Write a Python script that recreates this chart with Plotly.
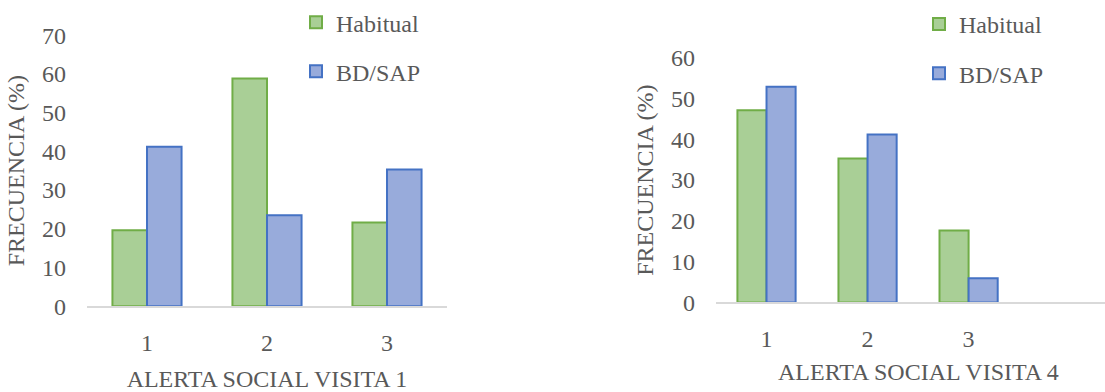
import plotly.graph_objects as go

# Frequencies (%) by social alert level, visits 1 and 4
categories = ["1", "2", "3"]
visita1_habitual = [19.6, 58.8, 21.6]
visita1_bdsap = [41.2, 23.5, 35.3]
visita4_habitual = [47.1, 35.3, 17.6]
visita4_bdsap = [52.9, 41.2, 5.9]

GREEN_FILL = "#a9cf96"
GREEN_LINE = "#70ad47"
BLUE_FILL = "#98abdb"
BLUE_LINE = "#4472c4"
TEXT = "#595959"
FONT = "Liberation Serif, Times New Roman, serif"

fig = go.Figure()

def add_pair(hab, bd, xa, ya, legend):
    fig.add_trace(go.Bar(
        x=categories, y=hab, name="Habitual", xaxis=xa, yaxis=ya,
        marker=dict(color=GREEN_FILL, line=dict(color=GREEN_LINE, width=2)),
        legend=legend, legendgroup="h"))
    fig.add_trace(go.Bar(
        x=categories, y=bd, name="BD/SAP", xaxis=xa, yaxis=ya,
        marker=dict(color=BLUE_FILL, line=dict(color=BLUE_LINE, width=2)),
        legend=legend, legendgroup="b"))

add_pair(visita1_habitual, visita1_bdsap, "x", "y", "legend")
add_pair(visita4_habitual, visita4_bdsap, "x2", "y2", "legend2")

W, H = 1105, 392
axis_font = dict(family=FONT, size=24, color=TEXT)
title_font = dict(family=FONT, size=24, color=TEXT)

xcommon = dict(type="category", showline=True, linecolor="#d9d9d9", linewidth=2,
               showgrid=False, zeroline=False, ticks="", tickfont=axis_font,
               ticklabelstandoff=14, fixedrange=True)
ycommon = dict(showline=False, showgrid=False, zeroline=False, ticks="",
               tickfont=axis_font, ticklabelstandoff=20, dtick=10)

legend_common = dict(font=dict(family=FONT, size=24, color=TEXT),
                     bgcolor="rgba(0,0,0,0)", tracegroupgap=15,
                     xanchor="left", yanchor="top", traceorder="grouped")

fig.update_layout(
    width=W, height=H,
    margin=dict(l=0, r=0, t=0, b=0),
    paper_bgcolor="white", plot_bgcolor="white",
    barmode="group", bargap=0.424, bargroupgap=0,
    font=dict(family=FONT, color=TEXT),
    xaxis=dict(xcommon, domain=[87 / W, 447 / W], range=[-0.5, 2.5],
               anchor="y",
               title=dict(text="ALERTA SOCIAL VISITA 1", font=title_font, standoff=19)),
    yaxis=dict(ycommon, domain=[(H - 316.6) / H, (H - 24) / H], range=[0, 70],
               anchor="x",
               title=dict(text="FRECUENCIA (%)", font=title_font, standoff=10)),
    xaxis2=dict(xcommon, domain=[716 / W, 1.0], range=[-0.5, 3.35],
                anchor="y2"),
    yaxis2=dict(ycommon, domain=[(H - 312.5) / H, (H - 48.3) / H], range=[0, 60],
                anchor="x2",
                title=dict(text="FRECUENCIA (%)", font=title_font, standoff=10)),
    legend=dict(legend_common, x=296 / W, y=1 + 14 / H),
    legend2=dict(legend_common, x=919 / W, y=1 + 12 / H),
    annotations=[dict(text="ALERTA SOCIAL VISITA 4", xref="paper", yref="paper",
                      x=918 / W, y=(H - 388) / H, xanchor="center", yanchor="middle",
                      showarrow=False, font=title_font)],
)

fig.write_html("out.html")
